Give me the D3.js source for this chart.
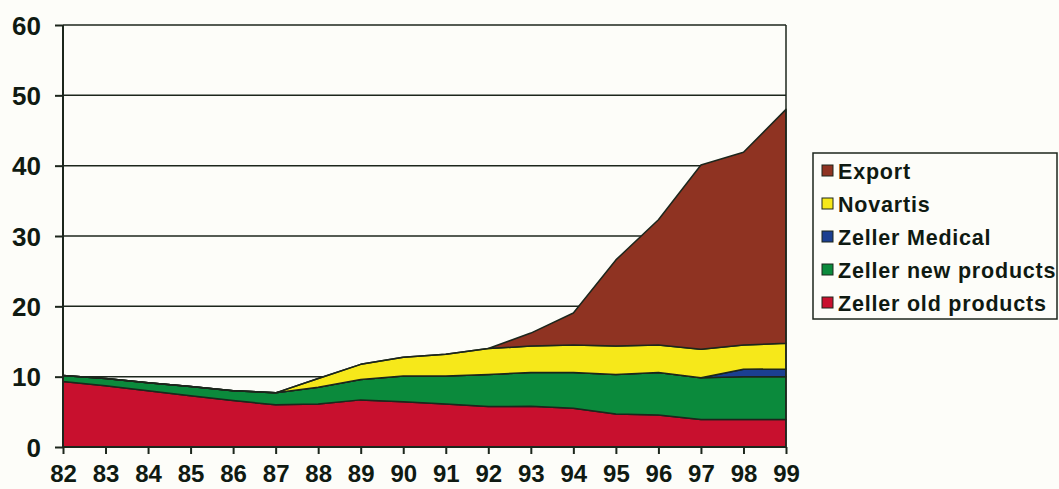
<!DOCTYPE html>
<html lang="en">
<head>
<meta charset="UTF-8">
<title>Zeller sales 82-99</title>
<script src="https://d3js.org/d3.v7.min.js"></script>
<style>
  body { margin: 0; background: #fdfdf9; }
  svg { display: block; font-family: "Liberation Sans", Arial, sans-serif; font-weight: bold; }
  .grid line { stroke: #1c261c; stroke-width: 1.5px; }
  .area { stroke: #1c261c; stroke-width: 1.5px; stroke-linejoin: round; }
</style>
</head>
<body>
<svg width="1059" height="489"></svg>
<script>
  const years = ["82","83","84","85","86","87","88","89","90","91","92","93","94","95","96","97","98","99"];
  const zellerOld = [9.3, 8.7, 8.0, 7.3, 6.6, 6.0, 6.1, 6.7, 6.45, 6.1, 5.75, 5.8, 5.5, 4.7, 4.55, 3.9, 3.9, 3.9];
  const zellerNew = [0.85, 1.05, 1.15, 1.3, 1.4, 1.7, 2.4, 2.9, 3.65, 4.0, 4.55, 4.8, 5.1, 5.6, 6.05, 5.95, 6.1, 6.1];
  const zellerMedical = [0, 0, 0, 0, 0, 0, 0, 0, 0, 0, 0, 0, 0, 0, 0, 0, 1.05, 1.1];
  const novartis = [0, 0, 0, 0, 0, 0, 1.25, 2.15, 2.65, 3.1, 3.7, 3.75, 3.9, 4.05, 3.9, 4.05, 3.45, 3.65];
  const exportSales = [0, 0, 0, 0, 0, 0, 0, 0, 0, 0, 0, 1.85, 4.55, 12.25, 17.8, 26.2, 27.4, 33.25];
  const yTicks = [0, 10, 20, 30, 40, 50, 60];

  const seriesNames = ["Zeller old products", "Zeller new products", "Zeller Medical", "Novartis", "Export"];
  const seriesValues = [zellerOld, zellerNew, zellerMedical, novartis, exportSales];
  const colors = ["#c8102e", "#0b8a3c", "#1b3f91", "#f6e81a", "#8f3322"];

  const svg = d3.select("svg");
  const margin = { left: 63, right: 273, top: 25, bottom: 42 };
  const width = 1059, height = 489;

  const table = years.map((y, i) => {
    const row = { year: y };
    seriesNames.forEach((n, k) => row[n] = seriesValues[k][i]);
    return row;
  });

  const x = d3.scalePoint().domain(years).range([margin.left, width - margin.right]);
  const y = d3.scaleLinear().domain([0, 60]).range([height - margin.bottom, margin.top]);

  // grid lines
  svg.append("g").attr("class", "grid")
    .selectAll("line").data(yTicks.slice(1)).enter().append("line")
    .attr("x1", margin.left).attr("x2", width - margin.right)
    .attr("y1", d => y(d)).attr("y2", d => y(d));

  const layers = d3.stack().keys(seriesNames)(table);

  const area = d3.area()
    .x(d => x(d.data.year))
    .y0(d => y(d[0]))
    .y1(d => y(d[1]));

  svg.selectAll(".area").data(layers).enter().append("path")
    .attr("class", "area")
    .attr("fill", (d, i) => colors[i])
    .attr("d", area);

  // right frame line
  svg.append("line")
    .attr("x1", width - margin.right).attr("x2", width - margin.right)
    .attr("y1", y(60)).attr("y2", y(0))
    .attr("stroke", "#1c261c").attr("stroke-width", 1.5);

  // axes
  const yAxis = svg.append("g")
    .attr("transform", `translate(${margin.left},0)`)
    .call(d3.axisLeft(y).tickValues(yTicks).tickSize(8).tickPadding(14).tickFormat(d3.format("d")));
  yAxis.selectAll("text").attr("font-size", 26).attr("dy", "0.35em").attr("fill", "#0f1a12");

  const xAxis = svg.append("g")
    .attr("transform", `translate(0,${y(0)})`)
    .call(d3.axisBottom(x).tickSize(7).tickPadding(11));
  xAxis.selectAll("text").attr("font-size", 24).attr("fill", "#0f1a12");

  [yAxis, xAxis].forEach(a => {
    a.selectAll("path, line").attr("stroke", "#1c261c").attr("stroke-width", 2);
    a.select(".domain").attr("d", a === yAxis
      ? `M0,${y(60)}V${y(0)}`
      : `M${margin.left},0H${width - margin.right}`);
    a.attr("font-family", null).attr("font-size", null);
  });

  // legend
  const legend = svg.append("g").attr("transform", "translate(813,153)");
  legend.append("rect").attr("width", 244).attr("height", 166)
    .attr("fill", "#fdfdf9").attr("stroke", "#1c261c").attr("stroke-width", 1.5);
  const legendOrder = seriesNames.map((n, i) => ({ name: n, color: colors[i] })).reverse();
  const item = legend.selectAll(".item").data(legendOrder).enter().append("g")
    .attr("transform", (d, i) => `translate(9,${18 + i * 33})`);
  item.append("rect").attr("x", 0).attr("y", -6).attr("width", 11).attr("height", 11)
    .attr("fill", d => d.color).attr("stroke", "#1c261c").attr("stroke-width", 1);
  item.append("text").attr("x", 16).attr("dy", "0.36em")
    .attr("font-size", 21.5).attr("letter-spacing", 0.8)
    .attr("fill", "#0f1a12").text(d => d.name);
</script>
</body>
</html>
